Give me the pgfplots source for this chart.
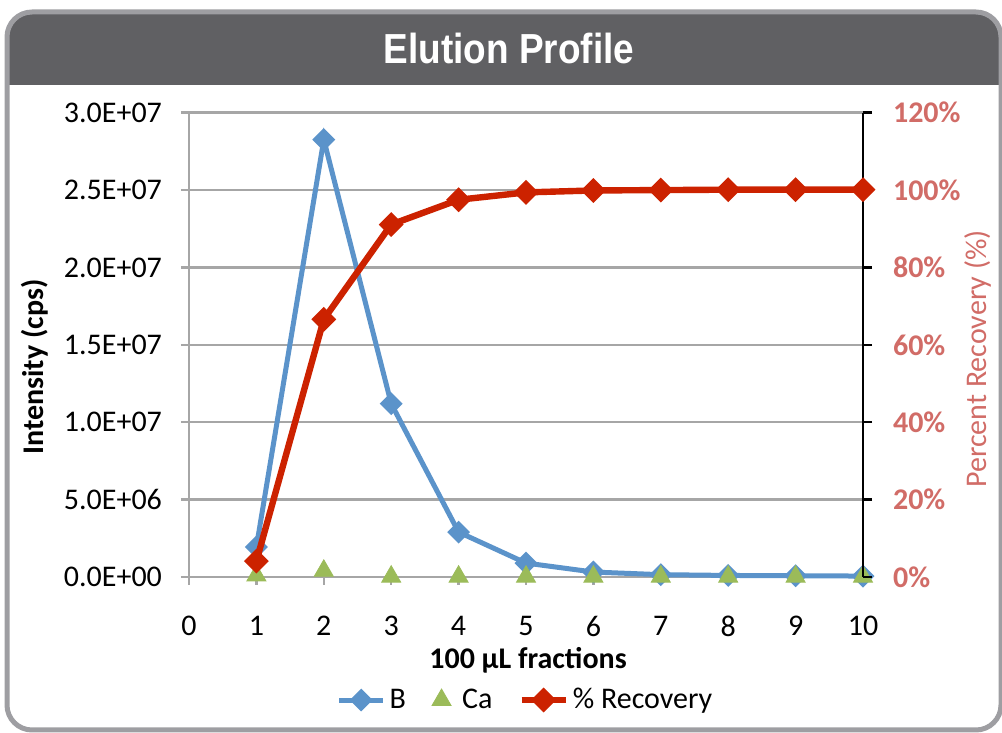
\documentclass[border=0pt]{standalone}
\usepackage{fontspec}
\setmainfont{Carlito}
\newfontfamily\titlefont[FakeStretch=0.88]{Liberation Sans}
\usepackage{pgfplots}
\pgfplotsset{compat=1.18}
\definecolor{bcol}{RGB}{91,147,202}
\definecolor{cacol}{RGB}{155,187,89}
\definecolor{rcol}{RGB}{204,34,0}
\definecolor{salmon}{RGB}{209,108,103}
\definecolor{hdr}{RGB}{96,96,99}
\definecolor{framec}{RGB}{158,158,162}
\definecolor{gridc}{RGB}{166,166,166}

\pgfplotsset{
  chartbase/.style={
    at={(94.5pt,78pt)}, anchor=south west, scale only axis,
    width=337pt, height=232.15pt,
    xmin=0, xmax=10, clip=false,
    scaled y ticks=false,
    /pgf/number format/assume math mode=true,
    tick label style={font=\fontsize{15}{18}\selectfont},
    label style={font=\fontsize{15}{18}\selectfont},
    tick align=outside, major tick length=4pt,
    legend image code/.code={%
      \draw[mark repeat=2,mark phase=2,##1] plot coordinates {(0pt,0pt) (11pt,0pt) (22pt,0pt)};},
  },
}

\begin{document}
\begin{tikzpicture}[x=0.5pt,y=0.5pt]
\useasboundingbox (0,0) rectangle (1002,733);
\fill[hdr] (7,648) [rounded corners=12.5pt] -- (7,721) -- (1001,721) [sharp corners] -- (1001,648) -- cycle;
\draw[framec, line width=2.5pt, rounded corners=12.5pt] (7,3) rectangle (1001,721);
\node[white, font=\titlefont\bfseries\fontsize{21}{25}\selectfont] at (509,685) {Elution Profile};

% left axis: intensity
\begin{axis}[
  chartbase,
  ymin=0, ymax=3e7,
  axis x line*=bottom, axis y line*=left,
  axis line style={gridc, line width=1.2pt},
  tick style={gridc, line width=1.2pt},
  xtick={0,1,...,10},
  xticklabel style={yshift=-12pt},
  ytick={0,5e6,1e7,1.5e7,2e7,2.5e7,3e7},
  yticklabels={0.0E+00,5.0E+06,1.0E+07,1.5E+07,2.0E+07,2.5E+07,3.0E+07},
  yticklabel style={xshift=-6pt},
  ymajorgrids, grid style={gridc, line width=1.2pt},
  xlabel={\bfseries 100 µL fractions},
  xlabel style={at={(axis description cs:0.503,-0.179)}, anchor=center},
  ylabel={\bfseries Intensity (cps)},
  ylabel style={at={(axis description cs:-0.2285,0.452)}, anchor=center},
]
\addplot[bcol, line width=2.5pt, mark=square*, mark size=2.8pt, mark options={rotate=45}]
  coordinates {(1,1.94e6) (2,2.826e7) (3,1.12e7) (4,2.9e6) (5,0.9e6)
               (6,0.32e6) (7,0.15e6) (8,0.1e6) (9,0.08e6) (10,0.06e6)};
\addplot[only marks, cacol, mark=triangle*, mark size=5.5pt]
  coordinates {(1,0.1e6) (2,0.4e6) (3,0.02e6) (4,0.02e6) (5,0.02e6)
               (6,0.02e6) (7,0.02e6) (8,0.02e6) (9,0.02e6) (10,0.02e6)};
\end{axis}

% right axis: recovery
\begin{axis}[
  chartbase,
  ymin=0, ymax=120,
  axis x line=none, axis y line*=right,
  axis line style={black, line width=1.2pt},
  ytick style={black, line width=1.2pt},
  major tick length=4.5pt,
  ytick={0,20,...,120},
  yticklabel={\pgfmathprintnumber{\tick}\%},
  yticklabel style={salmon, xshift=7pt, font=\fontsize{15}{18}\selectfont\bfseries},
  ylabel={Percent Recovery (\%)},
  ylabel style={salmon, at={(axis description cs:1.17,0.4695)}, anchor=center},
  legend style={draw=none, fill=none, font=\fontsize{15}{18}\selectfont,
    at={(axis description cs:0.5007,-0.265)}, anchor=center,
    /tikz/every even column/.append style={column sep=11pt}},
  legend columns=3,
]
\addlegendimage{bcol, line width=2.5pt, mark=square*, mark size=2.8pt, mark options={rotate=45}}
\addlegendentry{B\hspace{5.5pt}}
\addlegendimage{only marks, cacol, mark=triangle*, mark size=5.5pt}
\addlegendentry{\hspace{3.5pt}Ca}
\addplot[rcol, line width=3.2pt, mark=square*, mark size=2.8pt, mark options={rotate=45}]
  coordinates {(1,4.1) (2,66.6) (3,91.1) (4,97.5) (5,99.4)
               (6,99.9) (7,100) (8,100.1) (9,100.1) (10,100.1)};
\addlegendentry{\% Recovery}
\end{axis}
\end{tikzpicture}
\end{document}
